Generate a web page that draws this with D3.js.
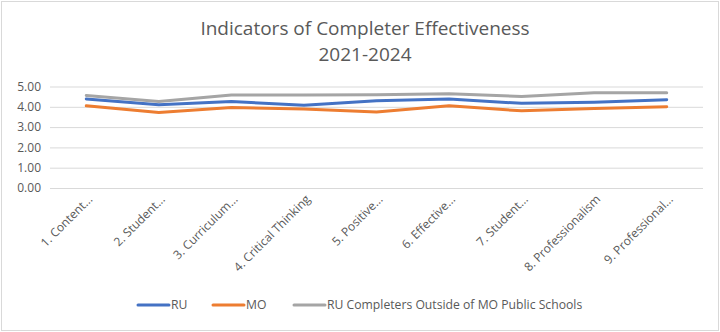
<!DOCTYPE html>
<html>
<head>
<meta charset="utf-8">
<script src="https://cdn.jsdelivr.net/npm/d3@7"></script>
<style>
  html, body { margin: 0; padding: 0; background: #fff; }
  svg { display: block; font-family: "Open Sans", "Noto Sans", sans-serif; }
</style>
</head>
<body>
<svg id="chart" width="720" height="332"></svg>
<script>
// Category labels (as truncated on the axis)
const categories = [
  "1. Content...",
  "2. Student...",
  "3. Curriculum...",
  "4. Critical Thinking",
  "5. Positive...",
  "6. Effective...",
  "7. Student...",
  "8. Professionalism",
  "9. Professional..."
];

// Mean ratings per indicator
const ruValues      = [4.39, 4.10, 4.26, 4.08, 4.30, 4.39, 4.17, 4.23, 4.35];
const moValues      = [4.05, 3.72, 3.97, 3.89, 3.74, 4.05, 3.80, 3.92, 4.00];
const outsideValues = [4.56, 4.26, 4.58, 4.58, 4.59, 4.64, 4.51, 4.69, 4.69];

const yTicks = [0, 1, 2, 3, 4, 5];

const seriesNames  = ["RU", "MO", "RU Completers Outside of MO Public Schools"];
const seriesColors = ["#4472C4", "#ED7D31", "#A5A5A5"];

const series = [
  { name: seriesNames[0], color: seriesColors[0], values: ruValues },
  { name: seriesNames[1], color: seriesColors[1], values: moValues },
  { name: seriesNames[2], color: seriesColors[2], values: outsideValues }
];

const W = 720, H = 332;
const margin = { left: 50, right: 17, top: 86.5, bottom: 144 };
const svg = d3.select("#chart");

// Outer chart frame
svg.append("rect")
  .attr("x", 1.5).attr("y", 1.5)
  .attr("width", W - 3).attr("height", H - 3)
  .attr("fill", "#fff").attr("stroke", "#d9d9d9").attr("stroke-width", 1);

// Title
const title = svg.append("text")
  .attr("text-anchor", "middle")
  .attr("fill", "#595959")
  .style("font-size", "19px");
title.append("tspan").attr("x", 365).attr("y", 35).text("Indicators of Completer Effectiveness");
title.append("tspan").attr("x", 365).attr("y", 61).text("2021-2024");

// Band scale over category positions (labels repeat, so index is the key)
const x = d3.scaleBand()
  .domain(d3.range(categories.length))
  .range([margin.left, W - margin.right])
  .paddingInner(0).paddingOuter(0);
const cx = i => x(i) + x.bandwidth() / 2;

const y = d3.scaleLinear()
  .domain([0, 5])
  .range([H - margin.bottom, margin.top]);

// Gridlines + value labels
const yAxis = d3.axisLeft(y)
  .tickValues(yTicks)
  .tickSize(-(W - margin.right - margin.left))
  .tickPadding(9)
  .tickFormat(d3.format(".2f"));

const gy = svg.append("g")
  .attr("transform", `translate(${margin.left},0)`)
  .call(yAxis);
gy.select(".domain").remove();
gy.selectAll(".tick line").attr("stroke", "#d9d9d9").attr("stroke-width", 1);
gy.selectAll(".tick text")
  .attr("fill", "#595959")
  .style("font-size", "12px")
  .style("font-family", "'Open Sans', sans-serif");

// Category labels, rotated
svg.append("g")
  .selectAll("text")
  .data(categories)
  .join("text")
  .attr("transform", (d, i) => `translate(${cx(i) + 7},${H - margin.bottom + 12}) rotate(-45)`)
  .attr("text-anchor", "end")
  .attr("fill", "#595959")
  .style("font-size", "12px")
  .text(d => d);

// Series lines
const line = d3.line()
  .x((d, i) => cx(i))
  .y(d => y(d));

svg.append("g")
  .selectAll("path")
  .data(series)
  .join("path")
  .attr("d", s => line(s.values))
  .attr("fill", "none")
  .attr("stroke", s => s.color)
  .attr("stroke-width", 3)
  .attr("stroke-linejoin", "round")
  .attr("stroke-linecap", "round");

// Legend
const legendX = [138, 213, 294];
const lg = svg.append("g");
series.forEach((s, k) => {
  const lx = legendX[k];
  lg.append("line")
    .attr("x1", lx).attr("x2", lx + 31)
    .attr("y1", 305).attr("y2", 305)
    .attr("stroke", s.color).attr("stroke-width", 3)
    .attr("stroke-linecap", "round");
  lg.append("text")
    .attr("x", lx + 33).attr("y", 309)
    .attr("fill", "#595959")
    .style("font-size", "12.2px")
    .text(s.name);
});
</script>
</body>
</html>
